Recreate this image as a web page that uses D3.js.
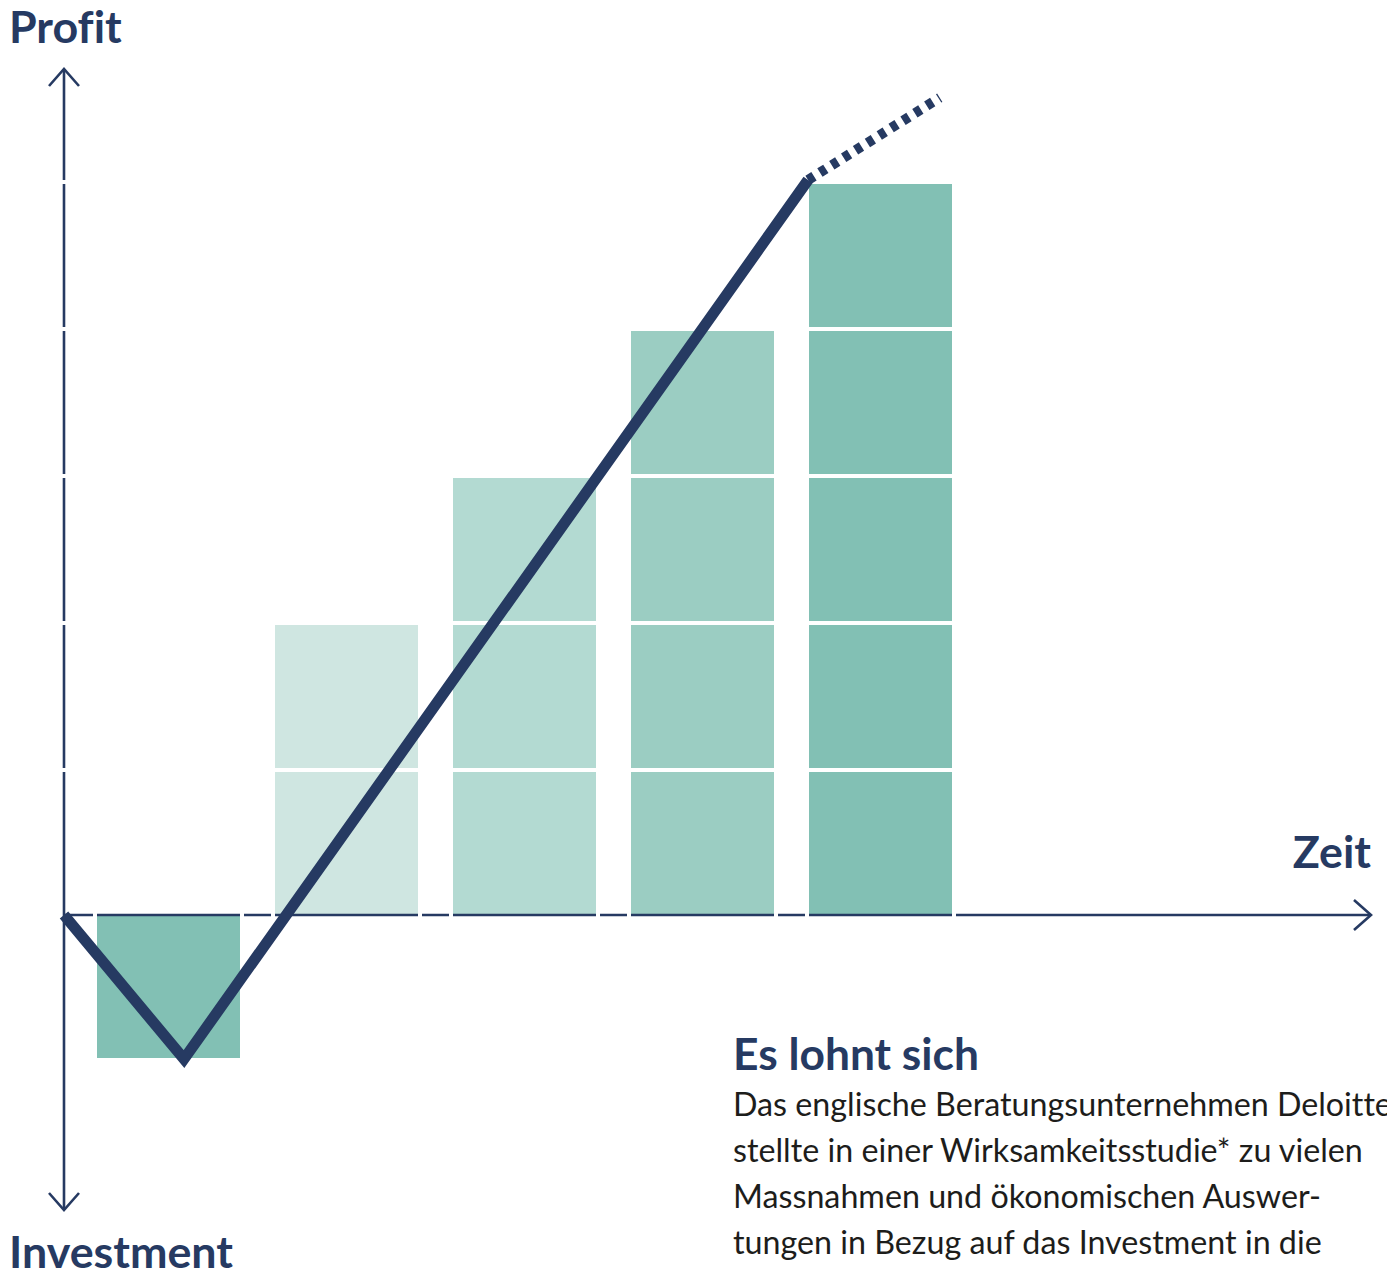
<!DOCTYPE html>
<html>
<head>
<meta charset="utf-8">
<script src="https://cdn.jsdelivr.net/npm/d3@7"></script>
<style>
  body { margin: 0; background: #fff; }
  svg { display: block; }
  text { font-variant-ligatures: none; }
</style>
</head>
<body>
<svg id="drawing_region"></svg>
<script>
// periods shown as stacked blocks, value = number of blocks (negative = investment)
const periods = ['1', '2', '3', '4', '5'];
const blocks = [-1, 2, 3, 4, 5];

// profit curve (time in periods, value in blocks)
const trendTime = [0, 0.674, 4.18];
const trendValue = [0, -0.98, 5];
// dotted continuation
const outlookTime = [4.18, 4.92];
const outlookValue = [5, 5.56];

const labels = { up: 'Profit', down: 'Investment', right: 'Zeit' };
const heading = 'Es lohnt sich';
const paragraph = [
    'Das englische Beratungsunternehmen Deloitte',
    'stellte in einer Wirksamkeitsstudie* zu vielen',
    'Massnahmen und ökonomischen Auswer-',
    'tungen in Bezug auf das Investment in die'
];

const navy = '#263a62';
const font = 'Lato, "Noto Sans", sans-serif';

const config = {
    width: 1387,
    height: 1270,
    originX: 64,
    originY: 915,
    axisTop: 69,
    axisBottom: 1210,
    axisRight: 1371,
    gap: 4
};

const svg = d3.select('#drawing_region')
    .attr('width', config.width)
    .attr('height', config.height);

const yscale = d3.scaleLinear()
    .domain([0, 5])
    .range([config.originY, config.originY - 5 * 147]);

const xband = d3.scaleBand()
    .domain(periods)
    .range([97, 952])
    .paddingInner(0.1966);

const xtime = d3.scaleLinear()
    .domain([0, 1])
    .range([config.originX, config.originX + 178]);

const color = d3.scaleOrdinal()
    .domain(periods)
    .range(['#82c0b4', '#cfe6e1', '#b3dad2', '#9bcdc2', '#82c0b4']);

const bars = periods.map((p, i) => ({ period: p, value: blocks[i] }));

// bars
svg.append('g').selectAll('rect')
    .data(bars)
    .join('rect')
    .attr('x', d => xband(d.period))
    .attr('width', xband.bandwidth())
    .attr('y', d => d.value > 0 ? yscale(d.value) + config.gap : yscale(0))
    .attr('height', d => d.value > 0
        ? yscale(0) - yscale(d.value) - config.gap
        : yscale(d.value) - yscale(0) - config.gap)
    .attr('fill', d => color(d.period));

// y axis
svg.append('line')
    .attr('x1', config.originX).attr('x2', config.originX)
    .attr('y1', config.axisTop).attr('y2', config.axisBottom)
    .attr('stroke', navy).attr('stroke-width', 2.6);

// white block separators (also cut the y axis)
const levels = d3.range(1, d3.max(blocks) + 1);
svg.append('g').selectAll('line')
    .data(levels)
    .join('line')
    .attr('x1', config.originX - 10)
    .attr('x2', xband(periods[periods.length - 1]) + xband.bandwidth())
    .attr('y1', d => yscale(d) + config.gap / 2)
    .attr('y2', d => yscale(d) + config.gap / 2)
    .attr('stroke', '#fff')
    .attr('stroke-width', config.gap);

// x axis
svg.append('line')
    .attr('x1', config.originX).attr('x2', config.axisRight)
    .attr('y1', config.originY).attr('y2', config.originY)
    .attr('stroke', navy).attr('stroke-width', 2.6);

// cuts in x axis at bar edges
const edges = [];
bars.forEach(d => {
    edges.push(xband(d.period) - config.gap);
    edges.push(xband(d.period) + xband.bandwidth());
});
svg.append('g').selectAll('rect')
    .data(edges)
    .join('rect')
    .attr('x', d => d)
    .attr('width', config.gap)
    .attr('y', config.originY - 3)
    .attr('height', 6)
    .attr('fill', '#fff');

// arrow heads
const arrow = d3.line();
const a = 15;
svg.append('path')
    .attr('d', arrow([[config.originX - a, config.axisTop + a + 2], [config.originX, config.axisTop], [config.originX + a, config.axisTop + a + 2]]))
    .attr('fill', 'none').attr('stroke', navy).attr('stroke-width', 2.6);
svg.append('path')
    .attr('d', arrow([[config.originX - a, config.axisBottom - a - 2], [config.originX, config.axisBottom], [config.originX + a, config.axisBottom - a - 2]]))
    .attr('fill', 'none').attr('stroke', navy).attr('stroke-width', 2.6);
svg.append('path')
    .attr('d', arrow([[config.axisRight - a - 2, config.originY - a], [config.axisRight, config.originY], [config.axisRight - a - 2, config.originY + a]]))
    .attr('fill', 'none').attr('stroke', navy).attr('stroke-width', 2.6);

// profit curve
const line = d3.line()
    .x(d => xtime(d[0]))
    .y(d => yscale(d[1]));

svg.append('path')
    .attr('d', line(d3.zip(outlookTime, outlookValue)))
    .attr('fill', 'none')
    .attr('stroke', navy)
    .attr('stroke-width', 10)
    .attr('stroke-dasharray', '7,7');

svg.append('path')
    .attr('d', line(d3.zip(trendTime, trendValue)))
    .attr('fill', 'none')
    .attr('stroke', navy)
    .attr('stroke-width', 11)
    .attr('stroke-linejoin', 'miter');

// labels
function fit(sel, target) {
    const w = sel.node().getComputedTextLength();
    const s = +sel.attr('font-size');
    sel.attr('font-size', s * target / w);
    return s * target / w;
}

const inv = svg.append('text')
    .attr('x', 9).attr('y', 1268)
    .attr('font-family', font).attr('font-weight', 'bold')
    .attr('font-size', 40).attr('fill', navy)
    .text(labels.down);
const axisSize = fit(inv, 224);

svg.append('text')
    .attr('x', 9).attr('y', 43)
    .attr('font-family', font).attr('font-weight', 'bold')
    .attr('font-size', axisSize).attr('fill', navy)
    .text(labels.up);

svg.append('text')
    .attr('x', 1371).attr('y', 868)
    .attr('text-anchor', 'end')
    .attr('font-family', font).attr('font-weight', 'bold')
    .attr('font-size', axisSize).attr('fill', navy)
    .text(labels.right);

const head = svg.append('text')
    .attr('x', 733).attr('y', 1070)
    .attr('font-family', font).attr('font-weight', 'bold')
    .attr('font-size', 40).attr('fill', navy)
    .text(heading);
fit(head, 246);

const para = svg.append('g');
const lines = para.selectAll('text')
    .data(paragraph)
    .join('text')
    .attr('x', 733)
    .attr('y', (d, i) => 1116 + i * 46)
    .attr('font-family', font)
    .attr('font-size', 30)
    .attr('fill', '#1d1d1b')
    .text(d => d);
const ps = fit(d3.select(lines.nodes()[1]), 630);
lines.attr('font-size', ps);
</script>
</body>
</html>
